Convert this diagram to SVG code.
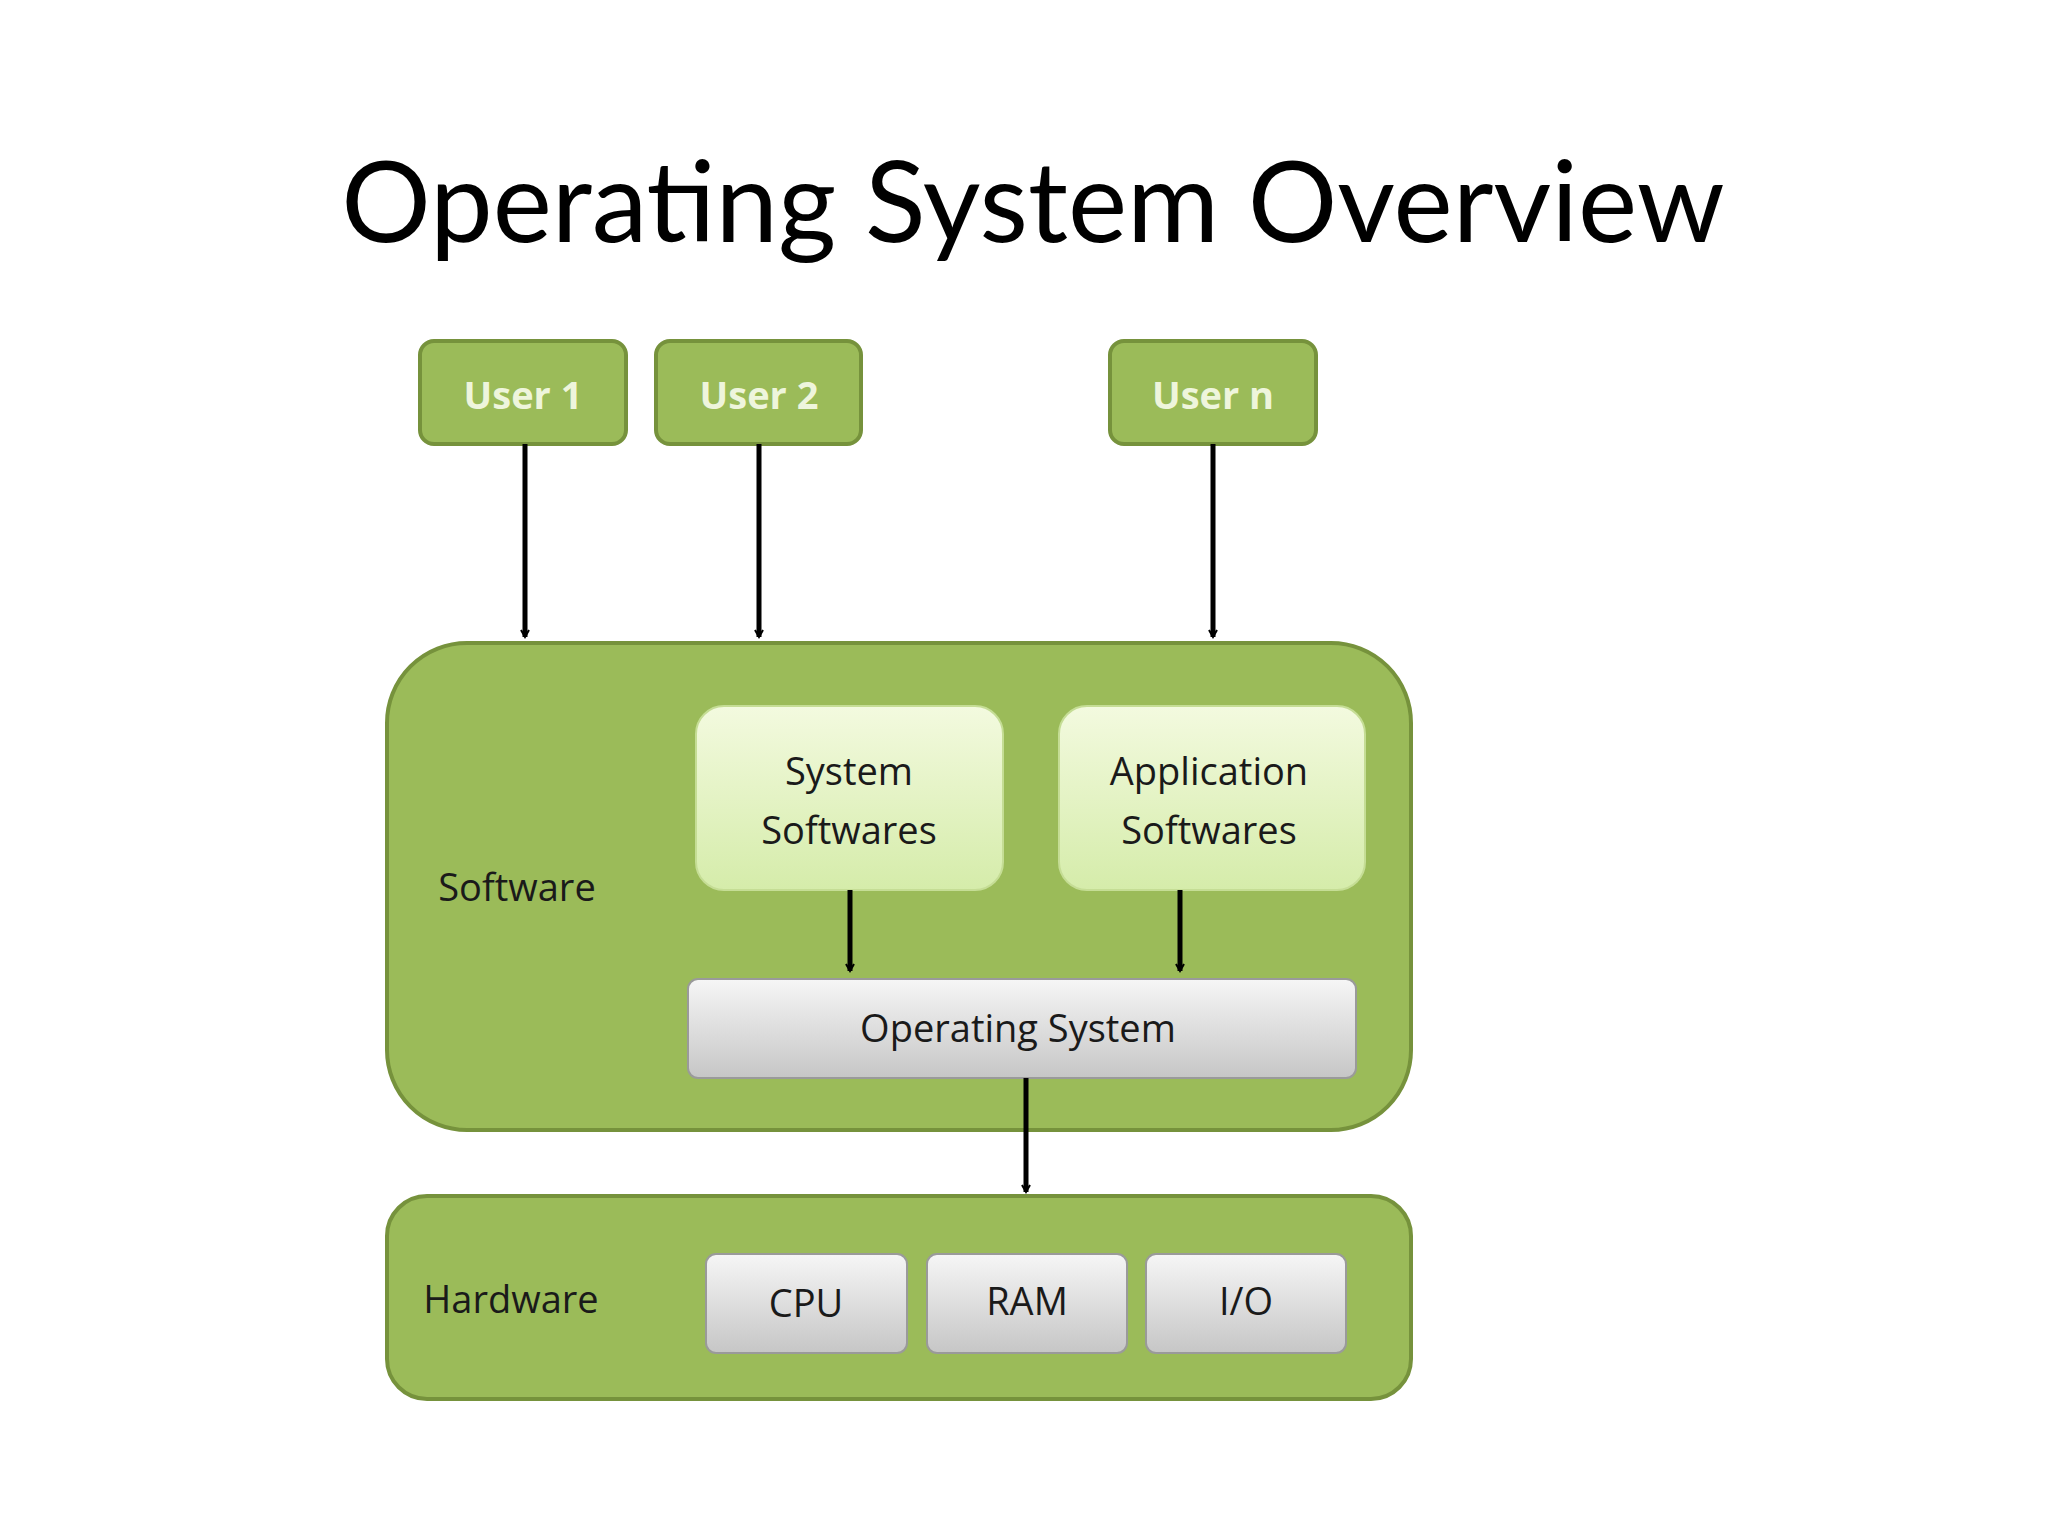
<svg xmlns="http://www.w3.org/2000/svg" width="2048" height="1536" viewBox="0 0 2048 1536">
<defs>
<linearGradient id="lg" x1="0" y1="0" x2="0" y2="1"><stop offset="0" stop-color="#f3fadf"/><stop offset="1" stop-color="#d5ecaa"/></linearGradient>
<linearGradient id="gg" x1="0" y1="0" x2="0" y2="1"><stop offset="0" stop-color="#f6f6f6"/><stop offset="1" stop-color="#c6c6c6"/></linearGradient>
<marker id="ah" markerWidth="10" markerHeight="10" refX="8" refY="5" orient="auto" markerUnits="userSpaceOnUse" viewBox="0 0 10 10"><path d="M1,1 L8,5 L1,9" fill="none" stroke="#000" stroke-width="2"/></marker>
<style>
.g{fill:#9bbb59;stroke:#76923c;stroke-width:4}
.l{fill:url(#lg);stroke:#c5dd95;stroke-width:2}
.y{fill:url(#gg);stroke:#9a9a9a;stroke-width:2}
.t{font-family:"Open Sans","DejaVu Sans",sans-serif;font-size:38px;fill:#1a1a1a;text-anchor:middle;dominant-baseline:central}
.u{font-family:"Open Sans","DejaVu Sans",sans-serif;font-size:38px;font-weight:bold;fill:#eef5dc;text-anchor:middle;dominant-baseline:central}
.c{stroke:#000;stroke-width:5;fill:none}
</style>
</defs>
<rect width="2048" height="1536" fill="#fff"/>
<text x="1033" y="242" font-family="Lato,'Open Sans',sans-serif" font-size="112" text-anchor="middle" fill="#000">Operating System Overview</text>
<g id="user1"><rect class="g" x="420" y="341" width="206" height="103" rx="14"/><text class="u" x="523" y="394">User 1</text></g>
<g id="user2"><rect class="g" x="656" y="341" width="205" height="103" rx="14"/><text class="u" x="759" y="394">User 2</text></g>
<g id="usern"><rect class="g" x="1110" y="341" width="206" height="103" rx="14"/><text class="u" x="1213" y="394">User n</text></g>
<g id="software"><rect class="g" x="387" y="643" width="1024" height="487" rx="80"/><text class="t" x="517" y="886">Software</text></g>
<g id="syssw"><rect class="l" x="696" y="706" width="307" height="184" rx="28"/><text class="t" x="849" y="770">System</text><text class="t" x="849" y="829">Softwares</text></g>
<g id="appsw"><rect class="l" x="1059" y="706" width="306" height="184" rx="28"/><text class="t" x="1209" y="770">Application</text><text class="t" x="1209" y="829">Softwares</text></g>
<g id="os"><rect class="y" x="688" y="979" width="668" height="99" rx="10"/><text class="t" x="1018" y="1027">Operating System</text></g>
<g id="hardware"><rect class="g" x="387" y="1196" width="1024" height="203" rx="40"/><text class="t" x="511" y="1298">Hardware</text></g>
<g id="cpu"><rect class="y" x="706" y="1254" width="201" height="99" rx="10"/><text class="t" x="806" y="1302">CPU</text></g>
<g id="ram"><rect class="y" x="927" y="1254" width="200" height="99" rx="10"/><text class="t" x="1027" y="1300">RAM</text></g>
<g id="io"><rect class="y" x="1146" y="1254" width="200" height="99" rx="10"/><text class="t" x="1246" y="1300">I/O</text></g>
<g id="connectors">
<line class="c" x1="525" y1="444" x2="525" y2="637" marker-end="url(#ah)"/>
<line class="c" x1="759" y1="444" x2="759" y2="637" marker-end="url(#ah)"/>
<line class="c" x1="1213" y1="444" x2="1213" y2="637" marker-end="url(#ah)"/>
<line class="c" x1="850" y1="890" x2="850" y2="971" marker-end="url(#ah)"/>
<line class="c" x1="1180" y1="890" x2="1180" y2="971" marker-end="url(#ah)"/>
<line class="c" x1="1026" y1="1078" x2="1026" y2="1192" marker-end="url(#ah)"/>
</g>
</svg>
